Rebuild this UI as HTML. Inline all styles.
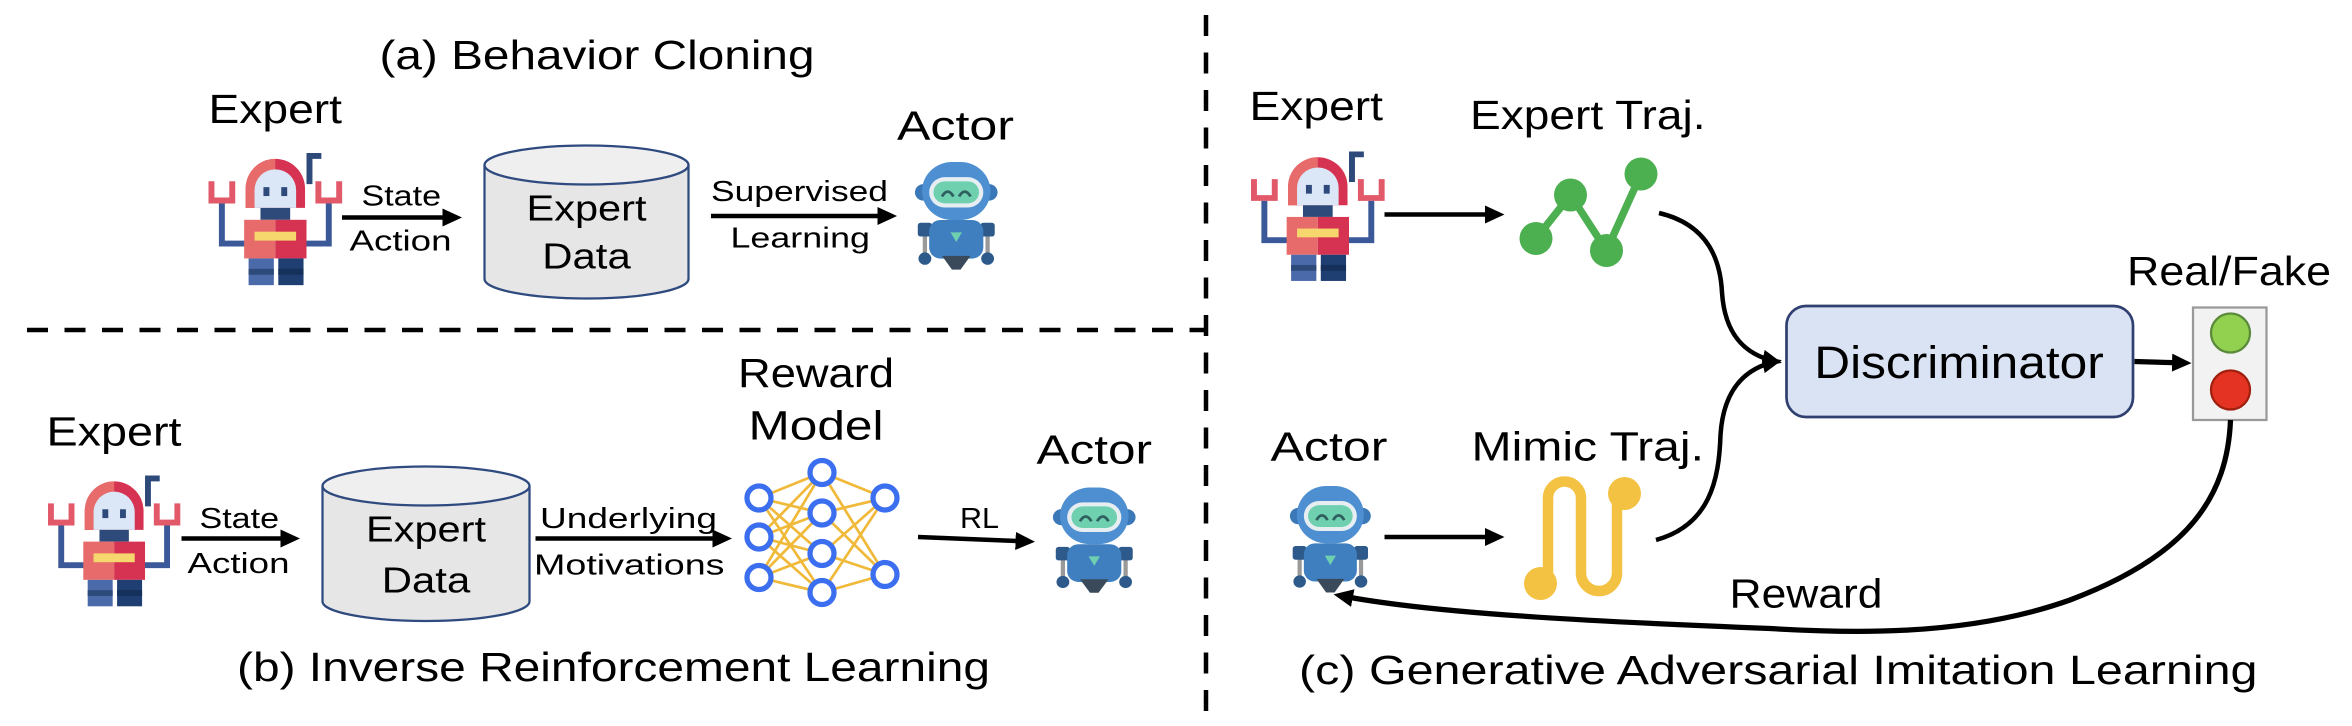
<!DOCTYPE html>
<html><head><meta charset="utf-8"><style>
html,body{margin:0;padding:0;background:#fff;}
svg{display:block;}
text{font-family:"Liberation Sans",sans-serif;fill:#000;}
</style></head><body>
<svg width="2352" height="726" viewBox="0 0 1568 484" xmlns="http://www.w3.org/2000/svg">
<defs>
<marker id="ah" markerWidth="13" markerHeight="12" refX="9" refY="6" orient="auto" markerUnits="userSpaceOnUse" viewBox="0 0 13 12">
<path d="M0,0 L13,6 L0,12 Z" fill="#000"/></marker>
<g id="exp">
<path d="M0,20 h4 v11 h10 v-11 h4 v15 h-18 z" fill="#e2596a"/>
<path d="M72,20 h4 v11 h10 v-11 h4 v15 h-18 z" fill="#e2596a"/>
<path d="M9,35 V62 H26 M81,35 V62 H64" stroke="#3b5998" stroke-width="4" fill="none"/>
<path d="M68,22 V3 H76" stroke="#2d4a7a" stroke-width="4" fill="none"/>
<path d="M25,38 V25 A20,20 0 0 1 65,25 V38 Z" fill="#d63352"/>
<path d="M25,38 V25 A20,20 0 0 1 45,5 V38 Z" fill="#e86b6b"/>
<path d="M31,38 V26 A14,14 0 0 1 59,26 V38 Z" fill="#dbe6f7"/>
<rect x="37" y="24" width="4" height="6" fill="#2d4a7a"/><rect x="49" y="24" width="4" height="6" fill="#2d4a7a"/>
<rect x="35" y="38" width="20" height="8" fill="#2d4a7a"/>
<rect x="24" y="46" width="21" height="26" fill="#e86b6b"/><rect x="45" y="46" width="21" height="26" fill="#d63352"/>
<rect x="31" y="54" width="28" height="6" fill="#f5d76e"/>
<rect x="27" y="72" width="17" height="18" fill="#4a6aaa"/><rect x="47" y="72" width="17" height="18" fill="#1f3f72"/>
<rect x="27" y="79" width="17" height="4" fill="#2d4a7a"/><rect x="47" y="79" width="17" height="4" fill="#15305a"/>
</g>
<g id="act">
<circle cx="7" cy="22" r="6" fill="#3a78b8"/><circle cx="53" cy="22" r="6" fill="#3a78b8"/>
<rect x="6" y="0" width="48" height="42" rx="21" fill="#4d8fd0"/>
<rect x="11" y="11" width="38" height="22" rx="11" fill="#e6eef2"/>
<rect x="14" y="14" width="32" height="16" rx="8" fill="#6fd0b0"/>
<path d="M20,25 q4,-7 8,0 M32,25 q4,-7 8,0" stroke="#2f5f5f" stroke-width="2" fill="none"/>
<path d="M8,52 V68 M52,52 V68" stroke="#999" stroke-width="3"/>
<rect x="3" y="44" width="10" height="10" rx="2" fill="#2d5a8a"/><rect x="47" y="44" width="10" height="10" rx="2" fill="#2d5a8a"/>
<rect x="11" y="42" width="38" height="28" rx="8" fill="#3f7fc0"/>
<path d="M26,51 h8 l-4,7 z" fill="#6fd0b0"/>
<circle cx="8" cy="70" r="4.5" fill="#2d5a8a"/><circle cx="52" cy="70" r="4.5" fill="#2d5a8a"/>
<path d="M20,68 H40 L33,78 H27 Z" fill="#3a4a5a"/>
</g>
</defs>

<line x1="804" y1="10" x2="804" y2="484" stroke="#000" stroke-width="3" stroke-dasharray="14,11"/>
<line x1="18" y1="220" x2="804" y2="220" stroke="#000" stroke-width="3" stroke-dasharray="14,11"/>

<text x="253" y="46" font-size="27" textLength="290" lengthAdjust="spacingAndGlyphs">(a) Behavior Cloning</text>
<text x="139" y="82" font-size="27" textLength="89" lengthAdjust="spacingAndGlyphs">Expert</text>
<use href="#exp" transform="translate(139,101) scale(0.99)"/>
<line x1="228" y1="145" x2="304" y2="145" stroke="#000" stroke-width="3" marker-end="url(#ah)"/>
<text x="241" y="137" font-size="19" textLength="53" lengthAdjust="spacingAndGlyphs">State</text>
<text x="233" y="167" font-size="19" textLength="68" lengthAdjust="spacingAndGlyphs">Action</text>
<path d="M323,110 V186 A68,13 0 0 0 459,186 V110" fill="#e6e6e6" stroke="#2f4a7f" stroke-width="1.5"/>
<ellipse cx="391" cy="110" rx="68" ry="13" fill="#efefef" stroke="#2f4a7f" stroke-width="1.5"/>
<text x="391" y="147" font-size="24" text-anchor="middle" textLength="80" lengthAdjust="spacingAndGlyphs">Expert</text>
<text x="391" y="179" font-size="24" text-anchor="middle" textLength="59" lengthAdjust="spacingAndGlyphs">Data</text>
<line x1="474" y1="144" x2="594" y2="144" stroke="#000" stroke-width="3" marker-end="url(#ah)"/>
<text x="474" y="134" font-size="19" textLength="118" lengthAdjust="spacingAndGlyphs">Supervised</text>
<text x="487" y="165" font-size="19" textLength="93" lengthAdjust="spacingAndGlyphs">Learning</text>
<text x="598" y="93" font-size="27" textLength="78" lengthAdjust="spacingAndGlyphs">Actor</text>
<use href="#act" transform="translate(609,108) scale(0.95,0.92)"/>

<text x="31" y="297" font-size="27" textLength="90" lengthAdjust="spacingAndGlyphs">Expert</text>
<use href="#exp" transform="translate(32,316) scale(0.98)"/>
<line x1="121" y1="359" x2="196" y2="359" stroke="#000" stroke-width="3" marker-end="url(#ah)"/>
<text x="133" y="352" font-size="19" textLength="53" lengthAdjust="spacingAndGlyphs">State</text>
<text x="125" y="382" font-size="19" textLength="68" lengthAdjust="spacingAndGlyphs">Action</text>
<path d="M215,324 V401 A69,13 0 0 0 353,401 V324" fill="#e6e6e6" stroke="#2f4a7f" stroke-width="1.5"/>
<ellipse cx="284" cy="324" rx="69" ry="13" fill="#efefef" stroke="#2f4a7f" stroke-width="1.5"/>
<text x="284" y="361" font-size="24" text-anchor="middle" textLength="80" lengthAdjust="spacingAndGlyphs">Expert</text>
<text x="284" y="395" font-size="24" text-anchor="middle" textLength="59" lengthAdjust="spacingAndGlyphs">Data</text>
<line x1="357" y1="359" x2="484" y2="359" stroke="#000" stroke-width="3" marker-end="url(#ah)"/>
<text x="360" y="352" font-size="19" textLength="118" lengthAdjust="spacingAndGlyphs">Underlying</text>
<text x="356" y="383" font-size="19" textLength="127" lengthAdjust="spacingAndGlyphs">Motivations</text>
<text x="544" y="258" font-size="27" text-anchor="middle" textLength="104" lengthAdjust="spacingAndGlyphs">Reward</text>
<text x="544" y="293" font-size="27" text-anchor="middle" textLength="90" lengthAdjust="spacingAndGlyphs">Model</text>
<g stroke="#f0b93a" stroke-width="1.8">
<path d="M506,332 L548,315 M506,332 L548,342 M506,332 L548,369 M506,332 L548,395
M506,358 L548,315 M506,358 L548,342 M506,358 L548,369 M506,358 L548,395
M506,385 L548,315 M506,385 L548,342 M506,385 L548,369 M506,385 L548,395
M548,315 L590,332 M548,342 L590,332 M548,369 L590,332 M548,395 L590,332
M548,315 L590,383 M548,342 L590,383 M548,369 L590,383 M548,395 L590,383"/>
</g>
<g fill="#fff" stroke="#3b6ff0" stroke-width="3.5">
<circle cx="506" cy="332" r="8"/><circle cx="506" cy="358" r="8"/><circle cx="506" cy="385" r="8"/>
<circle cx="548" cy="315" r="8"/><circle cx="548" cy="342" r="8"/><circle cx="548" cy="369" r="8"/><circle cx="548" cy="395" r="8"/>
<circle cx="590" cy="332" r="8"/><circle cx="590" cy="383" r="8"/>
</g>
<line x1="612" y1="358" x2="686" y2="361" stroke="#000" stroke-width="3" marker-end="url(#ah)"/>
<text x="640" y="352" font-size="19" textLength="26" lengthAdjust="spacingAndGlyphs">RL</text>
<text x="691" y="309" font-size="27" textLength="77" lengthAdjust="spacingAndGlyphs">Actor</text>
<use href="#act" transform="translate(701,325) scale(0.95,0.9)"/>
<text x="158" y="454" font-size="27" textLength="502" lengthAdjust="spacingAndGlyphs">(b) Inverse Reinforcement Learning</text>

<text x="833" y="80" font-size="27" textLength="89" lengthAdjust="spacingAndGlyphs">Expert</text>
<use href="#exp" transform="translate(834,100) scale(0.99,0.97)"/>
<line x1="923" y1="143" x2="999" y2="143" stroke="#000" stroke-width="3" marker-end="url(#ah)"/>
<text x="980" y="86" font-size="27" textLength="157" lengthAdjust="spacingAndGlyphs">Expert Traj.</text>
<path d="M1024,159 L1047,130 L1071,167 L1094,116" stroke="#4caf50" stroke-width="5" fill="none"/>
<g fill="#4caf50"><circle cx="1024" cy="159" r="11"/><circle cx="1047" cy="130" r="11"/><circle cx="1071" cy="167" r="11"/><circle cx="1094" cy="116" r="11"/></g>
<path d="M1106,142 C1140,150 1147,175 1148,195 C1150,225 1165,237 1184,241" stroke="#000" stroke-width="3" fill="none" marker-end="url(#ah)"/>
<path d="M1104,360 C1140,350 1146,320 1147,290 C1149,258 1165,245 1184,241" stroke="#000" stroke-width="3" fill="none" marker-end="url(#ah)"/>
<rect x="1191" y="204" width="231" height="74" rx="13" fill="#dae3f3" stroke="#2f3f6f" stroke-width="1.8"/>
<text x="1306" y="252" font-size="30" text-anchor="middle" textLength="193" lengthAdjust="spacingAndGlyphs">Discriminator</text>
<line x1="1423" y1="241" x2="1457" y2="242" stroke="#000" stroke-width="3.5" marker-end="url(#ah)"/>
<rect x="1462" y="205" width="49" height="75" fill="#f2f2f2" stroke="#999" stroke-width="1.5"/>
<circle cx="1487" cy="222" r="13" fill="#92d050" stroke="#5a8a3a" stroke-width="1.5"/>
<circle cx="1487" cy="260" r="13" fill="#e53323" stroke="#a02010" stroke-width="1.5"/>
<text x="1418" y="190" font-size="27" textLength="136" lengthAdjust="spacingAndGlyphs">Real/Fake</text>
<text x="847" y="307" font-size="27" textLength="78" lengthAdjust="spacingAndGlyphs">Actor</text>
<use href="#act" transform="translate(859,324) scale(0.93,0.91)"/>
<line x1="923" y1="358" x2="999" y2="358" stroke="#000" stroke-width="3" marker-end="url(#ah)"/>
<text x="981" y="307" font-size="27" textLength="155" lengthAdjust="spacingAndGlyphs">Mimic Traj.</text>
<path d="M1032,385 V332 A11,11 0 0 1 1054,332 V382 A12,12 0 0 0 1078,382 V335" stroke="#f4c242" stroke-width="7" fill="none"/>
<circle cx="1027" cy="389" r="11" fill="#f4c242"/><circle cx="1083" cy="329" r="11" fill="#f4c242"/>
<path d="M1487,280 C1485,330 1460,370 1380,400 C1310,425 1230,422 1180,419 C1080,415 960,410 893,397" stroke="#000" stroke-width="3.5" fill="none" marker-end="url(#ah)"/>
<text x="1153" y="405" font-size="27" textLength="102" lengthAdjust="spacingAndGlyphs">Reward</text>
<text x="866" y="456" font-size="27" textLength="639" lengthAdjust="spacingAndGlyphs">(c) Generative Adversarial Imitation Learning</text>
</svg>
</body></html>
